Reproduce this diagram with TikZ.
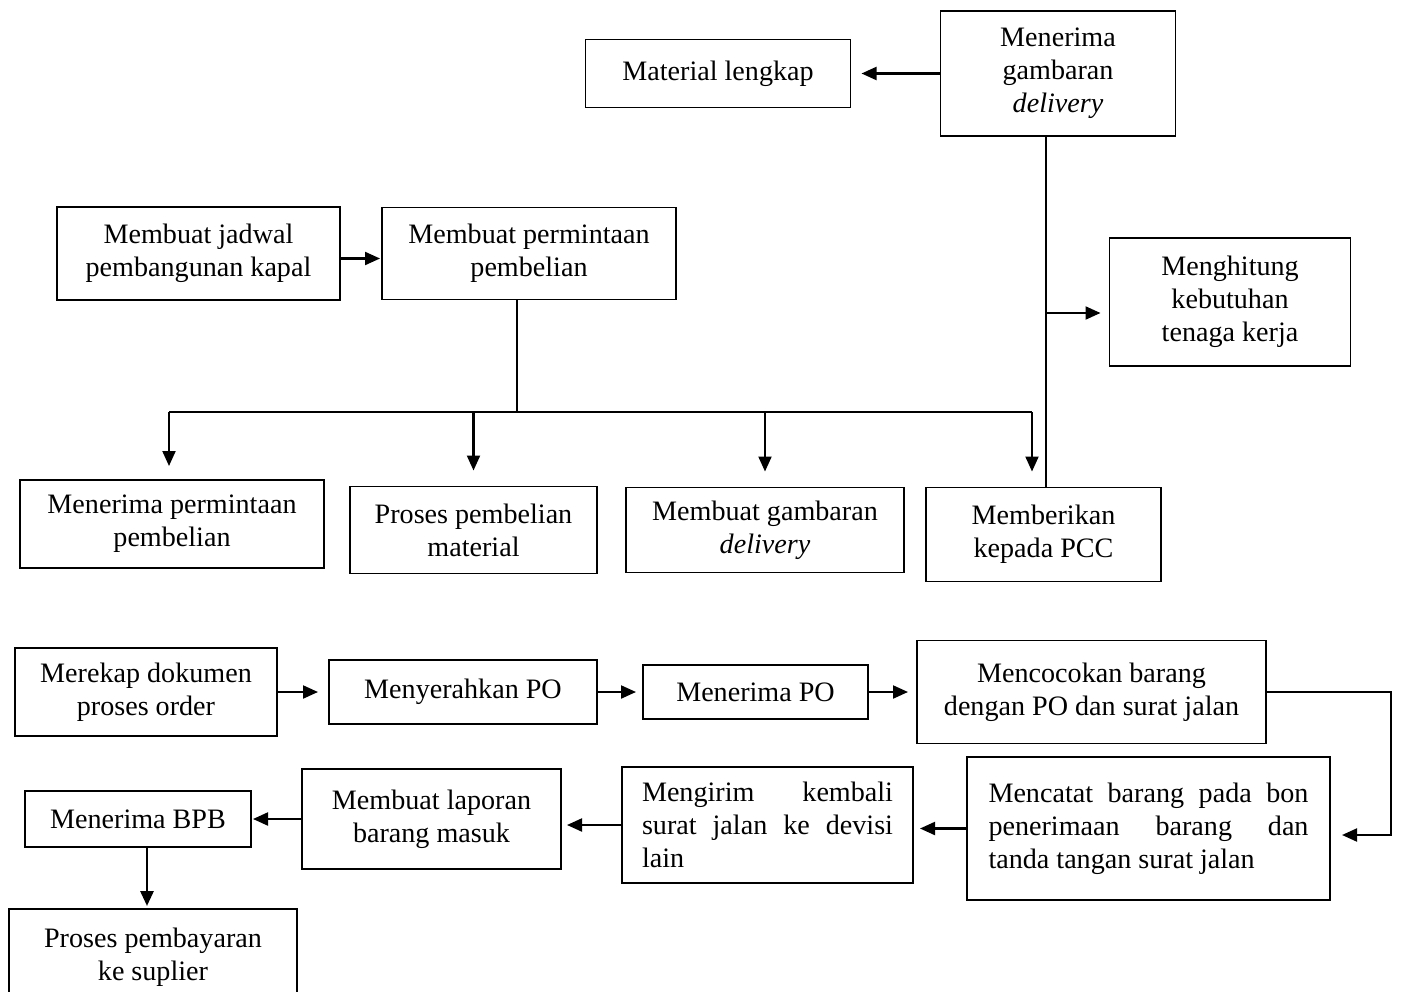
\documentclass[tikz,border=0pt]{standalone}
\usepackage{fontspec}
\setmainfont{Liberation Serif}
\usetikzlibrary{positioning, arrows.meta, calc}

\begin{document}
\begin{tikzpicture}[>={Triangle[length=0.3cm, width=0.26cm]},
    box/.style={rectangle, draw, line width=0.7pt, align=center, inner sep=2pt, outer sep=0pt, font=\fontsize{16}{18.7}\selectfont},
    boxj/.style={box, align=justify},
    line/.style={line width=1.1pt},
    arrow/.style={line width=1.2pt, ->, shorten >=0.18cm},
    turun/.style={arrow, shorten >=0.32cm}]

    \useasboundingbox (0,0) rectangle (28.04,-19.84);

    % Penerimaan gambaran delivery
    \node[box, minimum width=4.7cm, minimum height=2.5cm] (gambaran) at (21.16,-1.47) {Menerima\\ gambaran\\ \textit{delivery}};
    \node[box, minimum width=5.3cm, minimum height=1.36cm, left=1.8cm of gambaran] (material) {Material lengkap};
    \node[box, minimum width=4.82cm, minimum height=2.56cm] (hitung) at (24.6,-6.04) {Menghitung\\ kebutuhan\\ tenaga kerja};

    % Jadwal dan permintaan pembelian
    \node[box, minimum width=5.66cm, minimum height=1.86cm] (jadwal) at (3.97,-5.07) {Membuat jadwal\\ pembangunan kapal};
    \node[box, minimum width=5.88cm, minimum height=1.84cm, right=0.84cm of jadwal] (minta) {Membuat permintaan\\ pembelian};

    % Cabang permintaan
    \node[box, minimum width=6.08cm, minimum height=1.76cm] (terima_minta) at (3.44,-10.48) {Menerima permintaan\\ pembelian};
    \node[box, minimum width=4.94cm, minimum height=1.74cm, right=0.52cm of terima_minta, yshift=-0.12cm] (proses_beli) {Proses pembelian\\ material};
    \node[box, minimum width=5.56cm, minimum height=1.7cm, right=0.58cm of proses_beli] (gambar_kirim) {Membuat gambaran\\ \textit{delivery}};
    \node[box, minimum width=4.7cm, minimum height=1.88cm, right=0.44cm of gambar_kirim, yshift=-0.09cm] (pcc) {Memberikan\\ kepada PCC};

    % Alur order
    \node[box, minimum width=5.24cm, minimum height=1.76cm] (rekap) at (2.92,-13.84) {Merekap dokumen\\ proses order};
    \node[box, minimum width=5.36cm, minimum height=1.28cm, right=1.04cm of rekap] (serah_po) {Menyerahkan PO};
    \node[box, minimum width=4.5cm, minimum height=1.08cm, right=0.92cm of serah_po] (terima_po) {Menerima PO};
    \node[box, minimum width=6.98cm, minimum height=2.06cm, right=0.98cm of terima_po] (cocok) {Mencocokan barang\\ dengan PO dan surat jalan};

    \node[boxj, text width=6.4cm, minimum width=7.26cm, minimum height=2.86cm] (catat) at (22.97,-16.57) {Mencatat barang pada bon\linebreak penerimaan barang dan\linebreak tanda tangan surat jalan};
    \node[boxj, text width=5.02cm, minimum width=5.82cm, minimum height=2.32cm, left=1.08cm of catat, yshift=0.07cm] (kirim) {Mengirim kembali\linebreak surat jalan ke devisi\linebreak lain};
    \node[box, minimum width=5.18cm, minimum height=2.0cm, left=1.22cm of kirim, yshift=0.12cm] (laporan) {Membuat laporan\\ barang masuk};
    \node[box, minimum width=4.52cm, minimum height=1.12cm, left=1.02cm of laporan] (bpb) {Menerima BPB};
    \node[box, minimum width=5.76cm, minimum height=1.92cm, below=1.24cm of bpb, xshift=0.3cm] (bayar) {Proses pembayaran\\ ke suplier};

    % Garis bantu
    \coordinate (garis_atas) at ([xshift=-0.24cm]gambaran.south);
    \coordinate (bus_kiri) at (3.38,-8.24);
    \coordinate (bus_kanan) at (20.64,-8.24);
    \coordinate (bus_tengah) at ($(minta.south |- bus_kiri)+(-0.24,0)$);

    % Connections
    \draw[arrow, shorten >=0.22cm] (gambaran.west) -- (material.east);
    \draw[line] (garis_atas) -- (garis_atas |- pcc.north);
    \draw[arrow] ($(garis_atas |- hitung.west)+(0,-0.22)$) -- ($(hitung.west)+(0,-0.22)$);
    \draw[arrow, shorten >=0.04cm] ([yshift=-0.1cm]jadwal.east) -- ([yshift=-0.1cm]minta.west);
    \draw[line] ([xshift=-0.24cm]minta.south) -- (bus_tengah);
    \draw[line] (bus_kiri) -- (bus_kanan);
    \draw[turun, shorten >=0.28cm] (bus_kiri) -- (bus_kiri |- terima_minta.north);
    \draw[turun] (proses_beli.north |- bus_kiri) -- (proses_beli.north);
    \draw[turun] (gambar_kirim.north |- bus_kiri) -- (gambar_kirim.north);
    \draw[turun] (bus_kanan) -- (bus_kanan |- pcc.north);

    \draw[arrow, shorten >=0.22cm] (rekap) -- (serah_po);
    \draw[arrow, shorten >=0.14cm] (serah_po) -- (terima_po);
    \draw[arrow] (terima_po) -- (cocok);
    \draw[arrow, shorten >=0.24cm] (cocok.east) -- ++(2.5,0) |- ([yshift=-0.13cm]catat.east);
    \draw[arrow, shorten >=0.14cm] (catat.west) -- (catat.west -| kirim.east);
    \draw[arrow, shorten >=0.12cm] (kirim.west) -- (kirim.west -| laporan.east);
    \draw[arrow, shorten >=0.04cm] (laporan.west) -- (laporan.west -| bpb.east);
    \draw[arrow, line width=1.6pt, shorten >=0.06cm] ($(bpb.south)+(0.18,0)$) -- ($(bpb.south |- bayar.north)+(0.18,0)$);
\end{tikzpicture}
\end{document}
